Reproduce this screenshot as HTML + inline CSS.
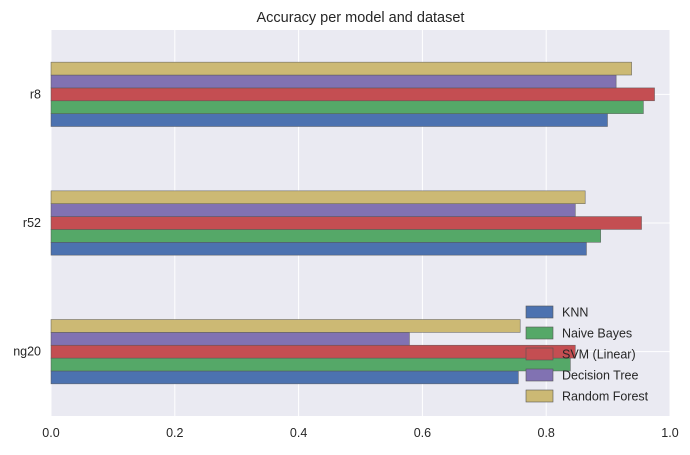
<!DOCTYPE html>
<html><head><meta charset="utf-8"><style>
body{margin:0;background:#fff;font-family:"Liberation Sans",Arial,sans-serif}
</style></head><body>
<svg id="chart" width="690" height="450" xmlns="http://www.w3.org/2000/svg" font-family="Liberation Sans, Arial, sans-serif"></svg>
<script>
const categories = ["ng20","r52","r8"];
const seriesNames = ["KNN","Naive Bayes","SVM (Linear)","Decision Tree","Random Forest"];
const knn = [0.755,0.865,0.899];
const naiveBayes = [0.839,0.888,0.957];
const svmLinear = [0.847,0.954,0.975];
const decisionTree = [0.579,0.847,0.913];
const randomForest = [0.758,0.863,0.938];
const xTicks = [0.0,0.2,0.4,0.6,0.8,1.0];
const xTickLabels = ["0.0","0.2","0.4","0.6","0.8","1.0"];
const series = [knn,naiveBayes,svmLinear,decisionTree,randomForest];
const colors = ["#4C72B0","#55A868","#C44E52","#8172B2","#CCB974"];
const L=51,R=670,T=30,B=416;
const X=v=>L+(v)*(R-L);
const Y=v=>B-(v+0.5)/3*(B-T);
const svg=document.getElementById('chart');
const NS="http://www.w3.org/2000/svg";
function mk(t,a,p){const e=document.createElementNS(NS,t);for(const k in a)e.setAttribute(k,a[k]);(p||svg).appendChild(e);return e;}
const bg=mk('rect',{x:L,y:T,width:R-L,height:B-T,fill:'#EAEAF2'});


xTicks.forEach((t,i)=>{
  const g=mk('line',{x1:X(t),x2:X(t),y1:T,y2:B,stroke:'#fff','stroke-width':1});
  
  
  const tx=mk('text',{x:X(t),y:B+21,'text-anchor':'middle','font-size':12.5,fill:'#262626'});
  tx.textContent=xTickLabels[i];
  
  
});
categories.forEach((c,i)=>{
  const g=mk('line',{x1:L,x2:R,y1:Y(i),y2:Y(i),stroke:'#fff','stroke-width':1});
  
  
  const tx=mk('text',{x:L-10,y:Y(i)+4,'text-anchor':'end','font-size':12.5,fill:'#262626'});
  tx.textContent=c;
  
  
});
const bh=0.1;
series.forEach((s,j)=>{
  s.forEach((v,i)=>{
    const yc=i-0.25+bh/2+j*bh;
    const r=mk('rect',{x:X(0),y:Y(yc+bh/2),width:X(v)-X(0),height:Y(yc-bh/2)-Y(yc+bh/2),fill:colors[j],stroke:'#555','stroke-width':0.6,'stroke-opacity':0.8});
    
    
  });
});
const title=mk('text',{x:(L+R)/2,y:22,'text-anchor':'middle','font-size':14.5,fill:'#262626'});
title.textContent="Accuracy per model and dataset";


seriesNames.forEach((n,j)=>{
  const yy=312+j*21;
  const p=mk('rect',{x:526,y:yy-6,width:27,height:12,fill:colors[j],stroke:'#555','stroke-width':0.6});
  
  
  const t=mk('text',{x:562,y:yy+4.5,'font-size':12.5,fill:'#262626'});
  t.textContent=n;
  
  
});
</script>
</body></html>
